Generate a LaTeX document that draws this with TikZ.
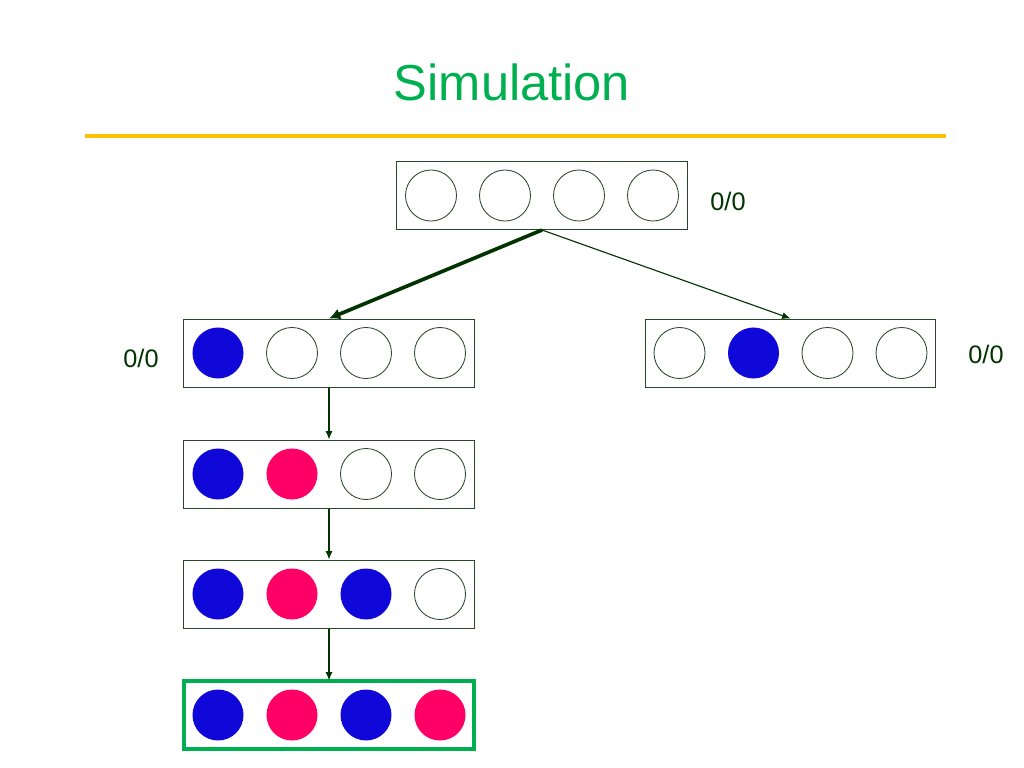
\documentclass[tikz,border=0pt]{standalone}
\usepackage{fontspec}
\setmainfont{Liberation Sans}
\usepackage{tikz}
\usetikzlibrary{calc,arrows.meta}

\definecolor{titlegreen}{RGB}{0,176,80}
\definecolor{rulegold}{RGB}{255,192,0}
\definecolor{darkgreen}{RGB}{0,51,0}
\definecolor{edgegray}{RGB}{40,70,40}
\definecolor{ballblue}{RGB}{16,8,216}
\definecolor{ballred}{RGB}{255,0,102}

\tikzset{
  box/.style={draw=edgegray, line width=0.7pt, minimum width=7.25cm, minimum height=1.7cm, inner sep=0pt},
  ball/.style={circle, minimum size=1.275cm, inner sep=0pt},
  e/.style={ball, draw=edgegray, line width=0.6pt},
  b/.style={ball, fill=ballblue},
  r/.style={ball, fill=ballred},
  score/.style={text=darkgreen, font=\fontsize{18}{20}\selectfont},
  link/.style={-{Latex[length=6pt,width=5pt]}, draw=darkgreen, line width=0.8pt}
}

% one row of four balls in a box
\newcommand{\ballrow}[3]{%
  \node[box] (#1) at (#2) {};
  \foreach \st [count=\i] in {#3}
    \node[\st] (#1-\i) at ($(#1)+({74*\i-185},0)$) {};
}

\begin{document}
\begin{tikzpicture}[x=0.025cm, y=-0.025cm]

\useasboundingbox (0,0) rectangle (1024,768);

\node[text=titlegreen, font=\fontsize{36}{40}\selectfont] (title) at (512,82) {Simulation};
\draw[rulegold, line width=3.5pt] (85,136) -- (946,136);

\ballrow{top}{542,195.5}{e,e,e,e}
\node[score] (top-score) at (728,201) {0/0};

\ballrow{left}{329,353}{b,e,e,e}
\node[score] (left-score) at (141,358) {0/0};

\ballrow{right}{790.5,353}{e,b,e,e}
\node[score] (right-score) at (986,354) {0/0};

\ballrow{second}{329,474}{b,r,e,e}
\ballrow{third}{329,594}{b,r,b,e}
\ballrow{last}{329,715}{b,r,b,r}
\node[box, draw=titlegreen, line width=2.2pt] at (last) {};

\draw[link, line width=2.6pt, -{Latex[length=8pt,width=8pt]}] (top.south) -- (left.north);
\draw[link] (top.south) -- (right.north);
\draw[link] (left.south) -- (second.north);
\draw[link] (second.south) -- (third.north);
\draw[link] (third.south) -- (last.north);

\end{tikzpicture}
\end{document}
